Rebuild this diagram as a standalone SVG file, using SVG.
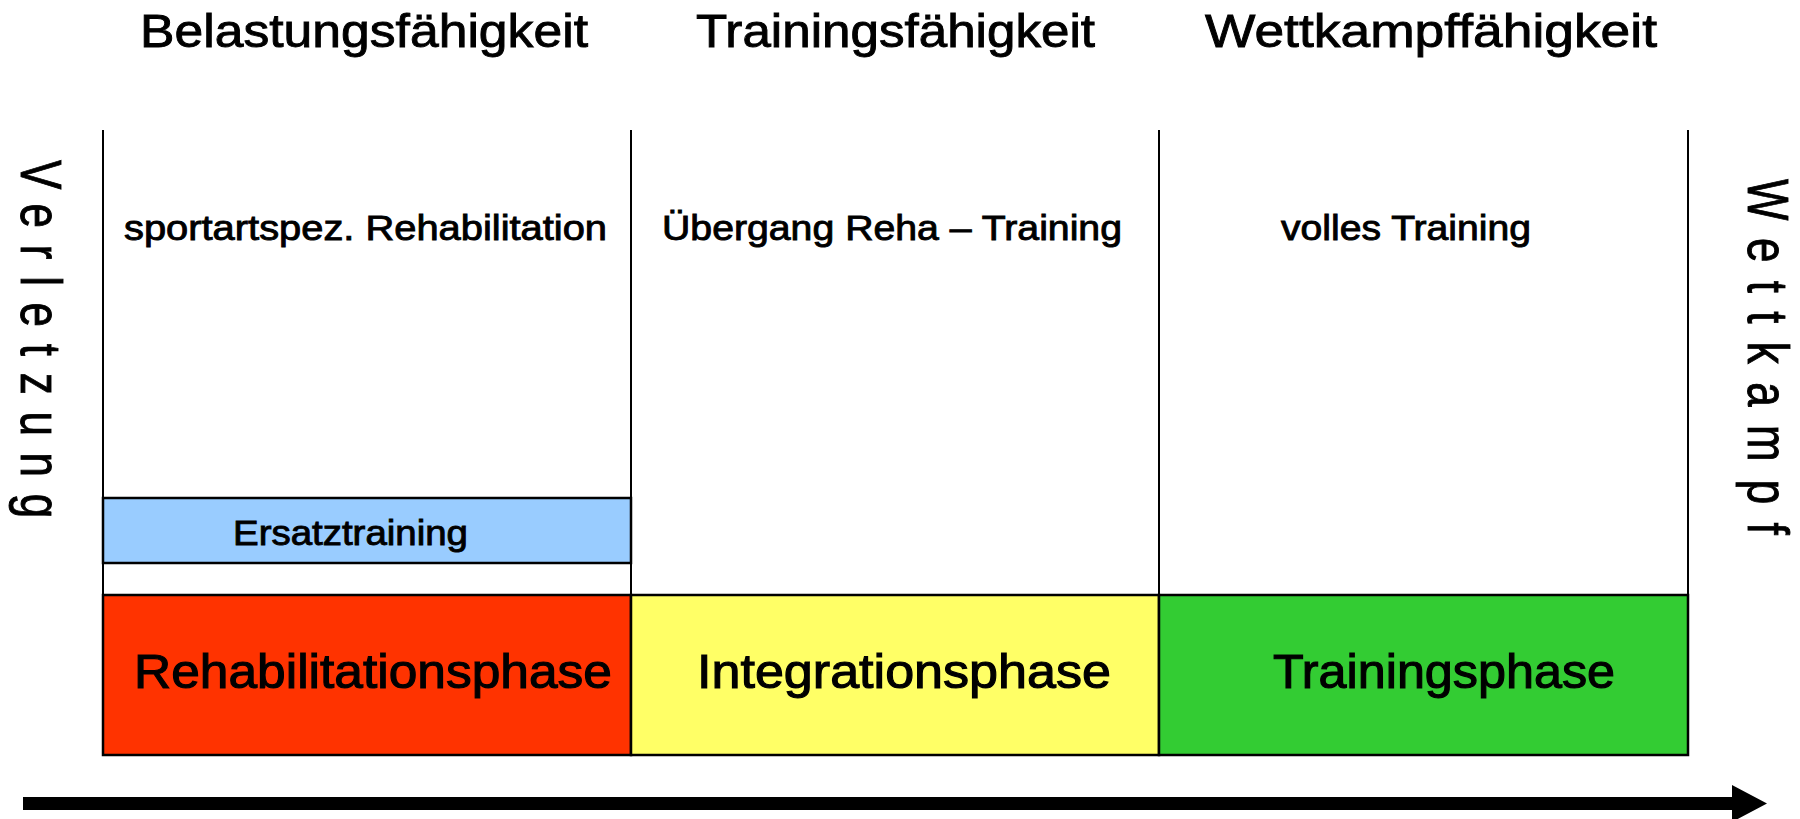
<svg xmlns="http://www.w3.org/2000/svg" width="1800" height="819" viewBox="0 0 1800 819">
<style>
text{font-family:"Liberation Sans",Arial,sans-serif;fill:#000;stroke:#000;stroke-width:0.9}
.title{font-size:47px}
.lab{font-size:35px}
.phase{font-size:48px;stroke-width:1.1}
.vert{font-size:44px;stroke-width:0.7}
.grid{stroke:#000;stroke-width:2;fill:none}
.box{stroke:#000;stroke-width:2.5}
</style>
<rect width="1800" height="819" fill="#fff"/>
<g id="titles">
<text class="title" x="140" y="47" textLength="448" lengthAdjust="spacingAndGlyphs">Belastungsfähigkeit</text>
<text class="title" x="696" y="47" textLength="399" lengthAdjust="spacingAndGlyphs">Trainingsfähigkeit</text>
<text class="title" x="1205" y="47" textLength="452" lengthAdjust="spacingAndGlyphs">Wettkampffähigkeit</text>
</g>
<g id="grid">
<line class="grid" x1="103" y1="130" x2="103" y2="595"/>
<line class="grid" x1="631" y1="130" x2="631" y2="595"/>
<line class="grid" x1="1159" y1="130" x2="1159" y2="595"/>
<line class="grid" x1="1688" y1="130" x2="1688" y2="595"/>
</g>
<g id="col-reha">
<text class="lab" x="124" y="240" textLength="483" lengthAdjust="spacingAndGlyphs">sportartspez. Rehabilitation</text>
</g>
<g id="col-integration">
<text class="lab" x="662" y="240" textLength="460" lengthAdjust="spacingAndGlyphs">Übergang Reha – Training</text>
</g>
<g id="col-training">
<text class="lab" x="1281" y="240" textLength="250" lengthAdjust="spacingAndGlyphs">volles Training</text>
</g>
<g id="ersatztraining">
<rect class="box" x="103" y="498" width="528" height="65" fill="#99CCFF" stroke-width="2"/>
<text class="lab" x="233" y="545" font-size="34" textLength="235" lengthAdjust="spacingAndGlyphs">Ersatztraining</text>
</g>
<g id="rehabilitationsphase">
<rect class="box" x="103" y="595" width="528" height="160" fill="#FF3300"/>
<text class="phase" x="134" y="688" textLength="478" lengthAdjust="spacingAndGlyphs">Rehabilitationsphase</text>
</g>
<g id="integrationsphase">
<rect class="box" x="631" y="595" width="528" height="160" fill="#FFFF66"/>
<text class="phase" x="697" y="688" textLength="414" lengthAdjust="spacingAndGlyphs">Integrationsphase</text>
</g>
<g id="trainingsphase">
<rect class="box" x="1159" y="595" width="529" height="160" fill="#33CC33"/>
<text class="phase" x="1273" y="688" textLength="342" lengthAdjust="spacingAndGlyphs">Trainingsphase</text>
</g>
<g id="verletzung">
<text class="vert" transform="translate(21,160) rotate(90) scale(1,1.3)" x="0" y="0" letter-spacing="16.7">Verletzung</text>
</g>
<g id="wettkampf">
<text class="vert" transform="translate(1748,179) rotate(90) scale(1,1.3)" x="0" y="0" letter-spacing="18.3">Wettkampf</text>
</g>
<g id="connectors">
<path d="M23 797 H1732 V785 L1767 803.5 L1732 822 V810 H23 Z" fill="#000"/>
</g>
</svg>
